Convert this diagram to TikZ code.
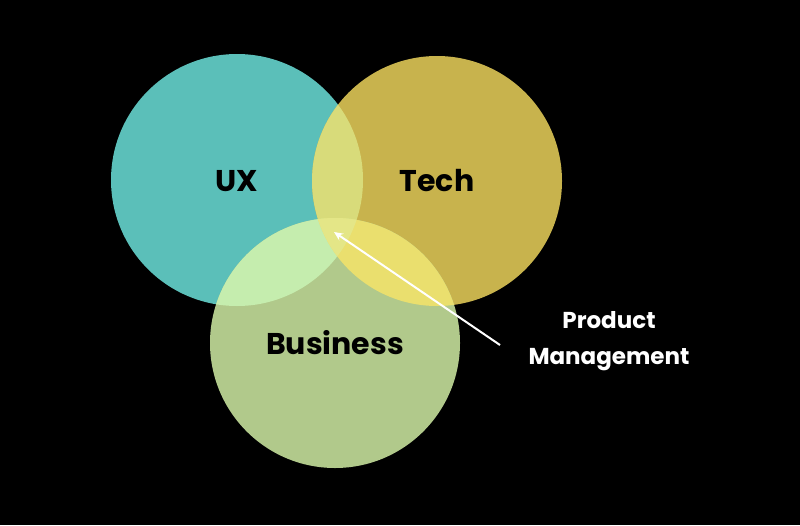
\documentclass[tikz,border=0pt]{standalone}
\usepackage{fontspec}
\setmainfont{Poppins}
\usetikzlibrary{arrows.meta}
\begin{document}
\begin{tikzpicture}[x=1pt,y=-1pt,
  lbl/.style={font=\bfseries\fontsize{30}{34}\selectfont,text=black},
  pm/.style={font=\bfseries\fontsize{23}{36}\selectfont,text=white,align=center}]
\definecolor{cux}{HTML}{5BBFB9}
\definecolor{ctech}{HTML}{C8B34D}
\definecolor{cbus}{HTML}{B1C98B}
\definecolor{cut}{HTML}{D8DB7A}
\definecolor{cub}{HTML}{C5EDAE}
\definecolor{ctb}{HTML}{EADF6E}
\definecolor{call}{HTML}{E4E687}
\fill[black] (0,0) rectangle (800,525);
\useasboundingbox (0,0) rectangle (800,525);
\def\ux{(237,180) circle (126)}
\def\te{(437,181) circle (125)}
\def\bu{(335,343) circle (125)}
\fill[cux] \ux; \fill[ctech] \te; \fill[cbus] \bu;
\begin{scope}\clip \ux; \fill[cut] \te; \end{scope}
\begin{scope}\clip \ux; \fill[cub] \bu; \end{scope}
\begin{scope}\clip \te; \fill[ctb] \bu; \end{scope}
\begin{scope}\clip \ux; \clip \te; \fill[call] \bu; \end{scope}
\node[lbl] (ux) at (237,181) {UX};
\node[lbl] (tech) at (437,181) {Tech};
\node[lbl] (bus) at (335,343) {Business};
\node[pm] (pm) at (609,341) {Product\\Management};
\coordinate (tip) at (334,232);
\coordinate (tail) at (500,345);
\draw[white,line width=2pt,-{Stealth[length=9pt,width=8pt]}] (tail) -- (tip);
\end{tikzpicture}
\end{document}
